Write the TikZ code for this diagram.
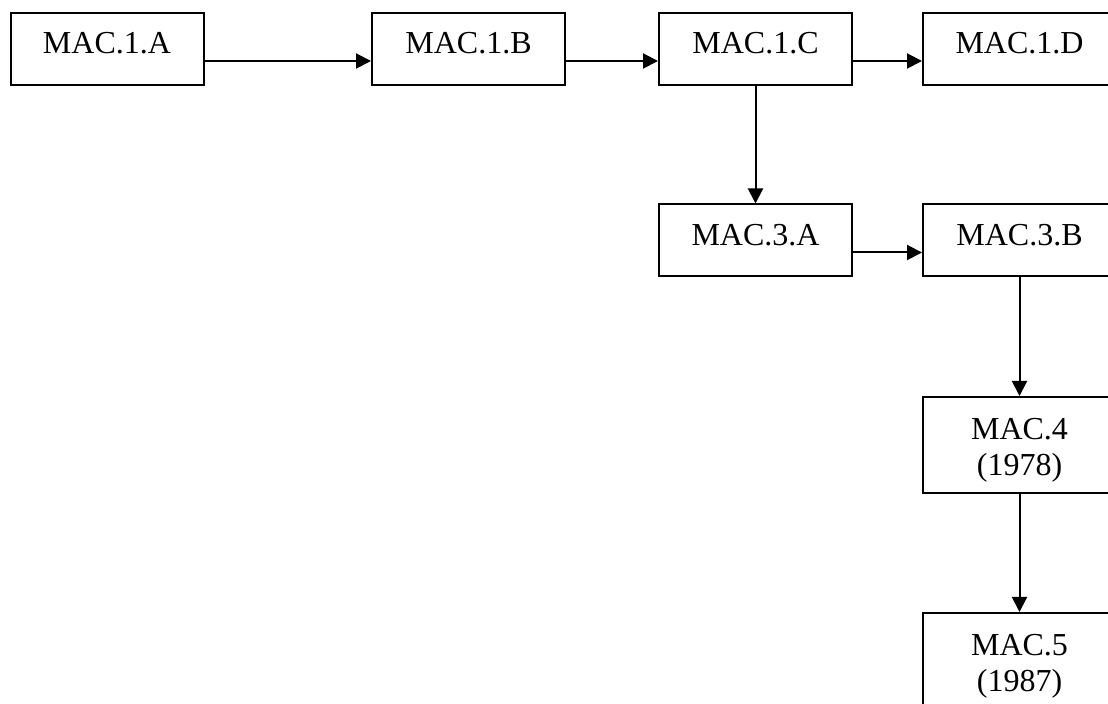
\documentclass[tikz,border=0pt]{standalone}
\usepackage{fontspec}
\setmainfont{Liberation Serif}
\usepackage{tikz}
\usetikzlibrary{arrows.meta}

\begin{document}
\begin{tikzpicture}[x=0.5pt, y=-0.5pt, line width=1pt,
	every node/.style={font=\fontsize{16}{18}\selectfont},
	>={Triangle[length=7.5pt, width=7.5pt]},
	macbox/.style={draw, line width=1pt, minimum width=96.5pt, inner xsep=0pt, inner ysep=0pt, text height=20.5pt, text depth=15.5pt},
	tallbox/.style={draw, line width=1pt, minimum width=96.5pt, minimum height=48pt, align=center, inner sep=0pt}]
	\clip (0,0) rectangle (1108,704);
	% first row
	\node[macbox] (m1a) at (107,49) {MAC.1.A};
	\node[macbox] (m1b) at (468.5,49) {MAC.1.B};
	\node[macbox] (m1c) at (755.5,49) {MAC.1.C};
	\node[macbox] (m1d) at (1019.5,49) {MAC.1.D};
	% second row
	\node[macbox] (m3a) at (755.5,240.5) {MAC.3.A};
	\node[macbox] (m3b) at (1019.5,240.5) {MAC.3.B};
	% right column
	\node[tallbox] (m4) at (1019.5,445) {\rule{0pt}{16pt}MAC.4\\(1978)};
	\node[tallbox] (m5) at (1019.5,661) {\rule{0pt}{16pt}MAC.5\\(1987)};
	\draw[->] ([yshift=-6pt]m1a.east) -- ([yshift=-6pt]m1b.west);
	\draw[->] ([yshift=-6pt]m1b.east) -- ([yshift=-6pt]m1c.west);
	\draw[->] ([yshift=-6pt]m1c.east) -- ([yshift=-6pt]m1d.west);
	\draw[->] (m1c.south) -- (m3a.north);
	\draw[->] ([yshift=-6pt]m3a.east) -- ([yshift=-6pt]m3b.west);
	\draw[->] (m3b.south) -- (m4.north);
	\draw[->] (m4.south) -- (m5.north);
\end{tikzpicture}
\end{document}
